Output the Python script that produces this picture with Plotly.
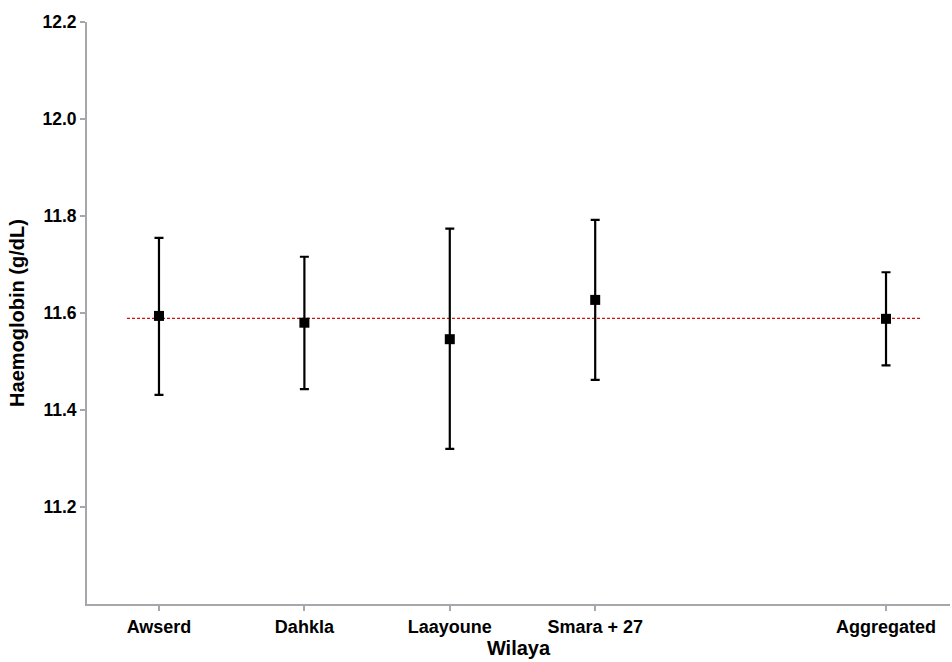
import plotly.graph_objects as go

# Haemoglobin by wilaya: mean with 95% confidence interval
wilaya = ["Awserd", "Dahkla", "Laayoune", "Smara + 27", "Aggregated"]
x_pos = [1, 2, 3, 4, 6]
hb_mean = [11.594, 11.580, 11.546, 11.627, 11.588]
ci_upper = [11.755, 11.716, 11.774, 11.792, 11.684]
ci_lower = [11.431, 11.443, 11.320, 11.462, 11.492]
pooled_mean = 11.589
y_ticks = [11.2, 11.4, 11.6, 11.8, 12.0, 12.2]

err_plus = [u - m for u, m in zip(ci_upper, hb_mean)]
err_minus = [m - l for m, l in zip(hb_mean, ci_lower)]

fig = go.Figure()

# pooled reference line
fig.add_trace(go.Scatter(
    x=[x_pos[0] - 0.22, x_pos[-1] + 0.24],
    y=[pooled_mean, pooled_mean],
    mode="lines",
    line=dict(color="#cc1111", width=1.2, dash="3px,2px"),
    hoverinfo="skip",
    showlegend=False,
))

fig.add_trace(go.Scatter(
    x=x_pos,
    y=hb_mean,
    mode="markers",
    marker=dict(symbol="square", size=10, color="black"),
    error_y=dict(
        type="data",
        symmetric=False,
        array=err_plus,
        arrayminus=err_minus,
        color="black",
        thickness=2.2,
        width=4.5,
    ),
    showlegend=False,
))

axis_color = "#a6a6ab"
font_family = "Liberation Sans, Arial, sans-serif"

fig.update_layout(
    width=952,
    height=662,
    margin=dict(l=87, r=2, t=22, b=58),
    plot_bgcolor="white",
    paper_bgcolor="white",
    font=dict(family=font_family, color="black"),
    xaxis=dict(
        range=[0.505, 6.44],
        tickmode="array",
        tickvals=x_pos,
        ticktext=["<b>%s</b>" % w for w in wilaya],
        tickfont=dict(size=18, color="black"),
        showline=True,
        linecolor=axis_color,
        linewidth=2,
        ticks="outside",
        ticklen=5,
        tickwidth=1.5,
        tickcolor=axis_color,
        showgrid=False,
        zeroline=False,
        title=dict(text="<b>Wilaya</b>", font=dict(size=20, color="black"), standoff=3),
    ),
    yaxis=dict(
        range=[11.0, 12.2],
        tickmode="array",
        tickvals=y_ticks,
        ticktext=["<b>%.1f</b>" % v for v in y_ticks],
        tickfont=dict(size=17.5, color="black"),
        showline=True,
        linecolor=axis_color,
        linewidth=2,
        ticks="outside",
        ticklen=5,
        tickwidth=1.5,
        tickcolor=axis_color,
        showgrid=False,
        zeroline=False,
        title=dict(text="<b>Haemoglobin (g/dL)</b>", font=dict(size=20, color="black"), standoff=12),
    ),
)

fig.write_html("out.html")
